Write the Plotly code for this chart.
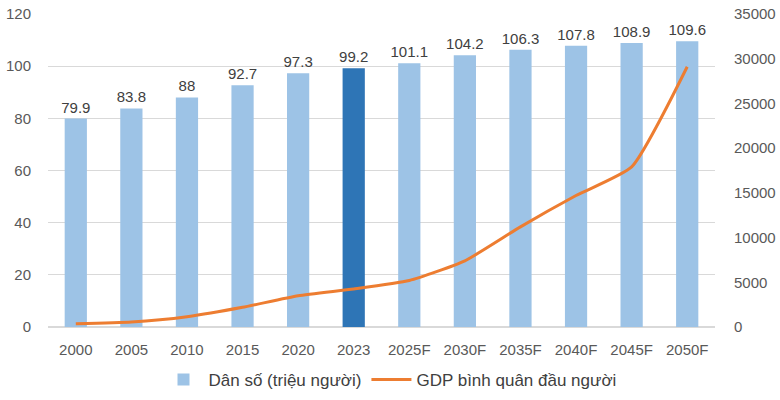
import plotly.graph_objects as go

categories = ["2000", "2005", "2010", "2015", "2020", "2023", "2025F", "2030F", "2035F", "2040F", "2045F", "2050F"]
population = [79.9, 83.8, 88, 92.7, 97.3, 99.2, 101.1, 104.2, 106.3, 107.8, 108.9, 109.6]
gdp_per_capita = [350, 550, 1150, 2200, 3500, 4250, 5200, 7400, 11200, 14700, 17900, 29100]
bar_labels = ["79.9", "83.8", "88", "92.7", "97.3", "99.2", "101.1", "104.2", "106.3", "107.8", "108.9", "109.6"]

bar_colors = ["#2E75B6" if c == "2023" else "#9DC3E6" for c in categories]
font = "Liberation Sans, Arial, sans-serif"

fig = go.Figure()
fig.add_trace(go.Bar(
    x=categories, y=population, name="Dân số (triệu người)",
    marker=dict(color=bar_colors, line=dict(width=0)),
    text=bar_labels, textposition="outside", cliponaxis=False, constraintext="none",
    textfont=dict(size=15, color="#404040", family=font),
))
fig.add_trace(go.Scatter(
    x=categories, y=gdp_per_capita, name="GDP bình quân đầu người",
    yaxis="y2", mode="lines",
    line=dict(color="#ED7D31", width=3, shape="spline", smoothing=0.5),
))

fig.update_layout(
    width=780, height=400,
    margin=dict(l=48, r=65, t=14, b=73, autoexpand=False),
    paper_bgcolor="white", plot_bgcolor="white",
    font=dict(family=font, color="#595959", size=14),
    bargap=0.6,
    uniformtext=dict(minsize=15, mode="show"),
    showlegend=True,
    legend=dict(orientation="h", x=0.5, xanchor="center", xref="container",
                y=0.05, yanchor="middle", yref="container",
                font=dict(size=17, color="#404040"), itemwidth=40, tracegroupgap=0),
    xaxis=dict(showgrid=False, showline=False, ticks="", tickfont=dict(size=15, color="#595959"),
               ticklabelstandoff=12),
    yaxis=dict(range=[0, 120], dtick=20, showgrid=True, gridcolor="#D9D9D9", gridwidth=1,
               zeroline=True, zerolinecolor="#D9D9D9", showline=False, ticks="",
               tickfont=dict(size=15, color="#595959"), ticklabelstandoff=16),
    yaxis2=dict(range=[0, 35000], dtick=5000, tickformat="d", overlaying="y", side="right", showgrid=False,
                zeroline=False, showline=False, ticks="",
                tickfont=dict(size=15, color="#595959"), ticklabelstandoff=18),
)

fig.write_html("out.html")
